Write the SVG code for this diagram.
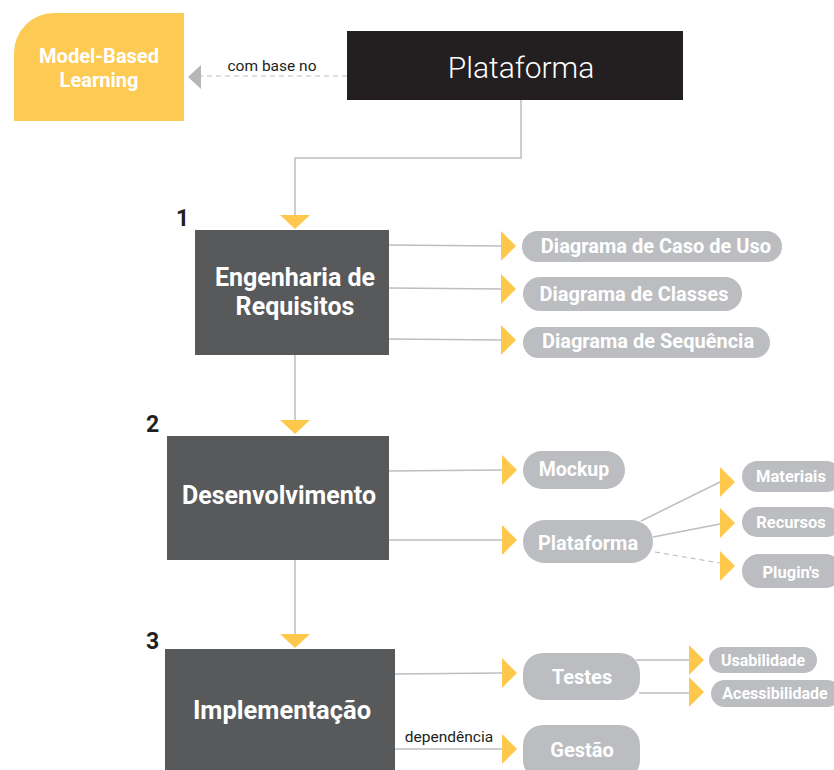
<svg xmlns="http://www.w3.org/2000/svg" width="834" height="770" viewBox="0 0 834 770">
  <style>
    .bg { fill: #ffffff; }
    .step { fill: #58595b; }
    .pill { fill: #bcbdc0; }
    .wire { fill: none; stroke: #bcbec0; stroke-width: 1.5; }
    .dash { fill: none; stroke: #bcbec0; stroke-width: 1.2; stroke-dasharray: 5 4; }
    .tip { fill: #fec84c; }
    .t { font-family: Roboto, "Liberation Sans", sans-serif; text-anchor: middle; fill: #ffffff; }
    .b { font-weight: 700; }
    .lbl { font-family: Roboto, "Liberation Sans", sans-serif; fill: #231f20; font-size: 15.5px; }
    .num { font-family: Roboto, "Liberation Sans", sans-serif; fill: #231f20; font-size: 23px; font-weight: 700; }
  </style>
  <defs>
    <!-- right-pointing yellow head, 15 wide x 30 tall, tip at origin -->
    <polygon id="headR" points="-15,-15 0,0 -15,15"/>
    <!-- down-pointing yellow head, tip at origin -->
    <polygon id="headD" points="-15,-14 15,-14 0,0"/>
  </defs>
  <rect class="bg" x="0" y="0" width="834" height="770"/>

  <!-- connectors -->
  <g id="connectors">
    <!-- Plataforma -> Model-Based Learning -->
    <line class="dash" x1="347" y1="76" x2="201" y2="76"/>
    <polygon points="201,65 188,77 201,89" fill="#b5b6b8"/>
    <text class="lbl" x="272" y="71" text-anchor="middle">com base no</text>

    <!-- main vertical flow -->
    <polyline class="wire" points="521,100 521,158 295,158 295,216"/>
    <use href="#headD" class="tip" x="295" y="229"/>
    <line class="wire" x1="295" y1="355" x2="295" y2="421"/>
    <use href="#headD" class="tip" x="295" y="434"/>
    <line class="wire" x1="295" y1="560" x2="295" y2="635"/>
    <use href="#headD" class="tip" x="295" y="648"/>

    <!-- step 1 outputs -->
    <line class="wire" x1="389" y1="245" x2="502" y2="246"/>
    <use href="#headR" class="tip" x="516" y="246"/>
    <line class="wire" x1="389" y1="288" x2="502" y2="289"/>
    <use href="#headR" class="tip" x="516" y="289"/>
    <line class="wire" x1="389" y1="339" x2="502" y2="340"/>
    <use href="#headR" class="tip" x="516" y="340"/>

    <!-- step 2 outputs -->
    <line class="wire" x1="389" y1="471" x2="502" y2="470"/>
    <use href="#headR" class="tip" x="517" y="470"/>
    <line class="wire" x1="389" y1="540" x2="502" y2="540"/>
    <use href="#headR" class="tip" x="517" y="540"/>

    <!-- Plataforma branches -->
    <line class="wire" x1="641" y1="521" x2="720" y2="482"/>
    <use href="#headR" class="tip" x="735" y="482"/>
    <line class="wire" x1="653" y1="537" x2="720" y2="524"/>
    <use href="#headR" class="tip" x="735" y="523"/>
    <line class="dash" x1="655" y1="552" x2="720" y2="563"/>
    <use href="#headR" class="tip" x="735" y="566"/>

    <!-- step 3 outputs -->
    <line class="wire" x1="395" y1="674" x2="502" y2="673"/>
    <use href="#headR" class="tip" x="517" y="673"/>
    <line class="wire" x1="395" y1="749" x2="502" y2="749"/>
    <use href="#headR" class="tip" x="517" y="749"/>
    <text class="lbl" x="449" y="742" text-anchor="middle" font-size="14">dependência</text>

    <!-- Testes branches -->
    <line class="wire" x1="636" y1="660" x2="690" y2="660"/>
    <use href="#headR" class="tip" x="704" y="660"/>
    <line class="wire" x1="639" y1="693" x2="690" y2="693"/>
    <use href="#headR" class="tip" x="704" y="692"/>
  </g>

  <!-- Model-Based Learning -->
  <g id="model-based-learning">
    <path d="M14,121 L14,53 A40,40 0 0 1 54,13 L184,13 L184,121 Z" fill="#fdcb53"/>
    <text class="t b" x="99" y="63" font-size="20">Model-Based</text>
    <text class="t b" x="99" y="87" font-size="20">Learning</text>
  </g>

  <!-- Plataforma (top) -->
  <g id="plataforma-top">
    <rect x="347" y="31" width="336" height="69" fill="#231f20"/>
    <text class="t" x="521" y="78" font-size="30" font-weight="300">Plataforma</text>
  </g>

  <!-- Step 1 -->
  <g id="engenharia-de-requisitos">
    <text class="num" x="176" y="226">1</text>
    <rect class="step" x="195" y="230" width="194" height="125"/>
    <text class="t b" x="295" y="286" font-size="25">Engenharia de</text>
    <text class="t b" x="295" y="315" font-size="25">Requisitos</text>
  </g>

  <g id="diagrama-caso-de-uso">
    <rect class="pill" x="522" y="231" width="260" height="31" rx="15.5"/>
    <text class="t b" x="656" y="253" font-size="20">Diagrama de Caso de Uso</text>
  </g>
  <g id="diagrama-classes">
    <rect class="pill" x="523" y="277" width="219" height="34" rx="17"/>
    <text class="t b" x="634" y="301" font-size="20">Diagrama de Classes</text>
  </g>
  <g id="diagrama-sequencia">
    <rect class="pill" x="523" y="327" width="247" height="31" rx="15.5"/>
    <text class="t b" x="648" y="348" font-size="20">Diagrama de Sequência</text>
  </g>

  <!-- Step 2 -->
  <g id="desenvolvimento">
    <text class="num" x="146" y="432">2</text>
    <rect class="step" x="167" y="436" width="222" height="124"/>
    <text class="t b" x="279" y="504" font-size="25">Desenvolvimento</text>
  </g>

  <g id="mockup">
    <rect class="pill" x="523" y="451" width="102" height="38" rx="19"/>
    <text class="t b" x="574" y="476" font-size="19.5">Mockup</text>
  </g>
  <g id="plataforma">
    <rect class="pill" x="523" y="520" width="130" height="43" rx="21.5"/>
    <text class="t b" x="588" y="550" font-size="20">Plataforma</text>
  </g>

  <g id="materiais">
    <rect class="pill" x="742" y="461" width="100" height="31" rx="15.5"/>
    <text class="t b" x="791" y="482" font-size="16.5">Materiais</text>
  </g>
  <g id="recursos">
    <rect class="pill" x="742" y="507" width="100" height="30" rx="15"/>
    <text class="t b" x="791" y="528" font-size="16.5">Recursos</text>
  </g>
  <g id="plugins">
    <rect class="pill" x="742" y="554" width="100" height="34" rx="17"/>
    <text class="t b" x="791" y="578" font-size="16.5">Plugin's</text>
  </g>

  <!-- Step 3 -->
  <g id="implementacao">
    <text class="num" x="146" y="649">3</text>
    <rect class="step" x="165" y="649" width="230" height="130"/>
    <text class="t b" x="282" y="719" font-size="25.5">Implementação</text>
  </g>

  <g id="testes">
    <rect class="pill" x="523" y="653" width="117" height="47" rx="20"/>
    <text class="t b" x="582" y="684" font-size="20">Testes</text>
  </g>
  <g id="gestao">
    <rect class="pill" x="523" y="725" width="117" height="55" rx="20"/>
    <text class="t b" x="582" y="757" font-size="20">Gestão</text>
  </g>

  <g id="usabilidade">
    <rect class="pill" x="709" y="647" width="108" height="26" rx="13"/>
    <text class="t b" x="763" y="666" font-size="16">Usabilidade</text>
  </g>
  <g id="acessibilidade">
    <rect class="pill" x="711" y="680" width="130" height="27" rx="13.5"/>
    <text class="t b" x="775" y="699" font-size="16">Acessibilidade</text>
  </g>
</svg>
